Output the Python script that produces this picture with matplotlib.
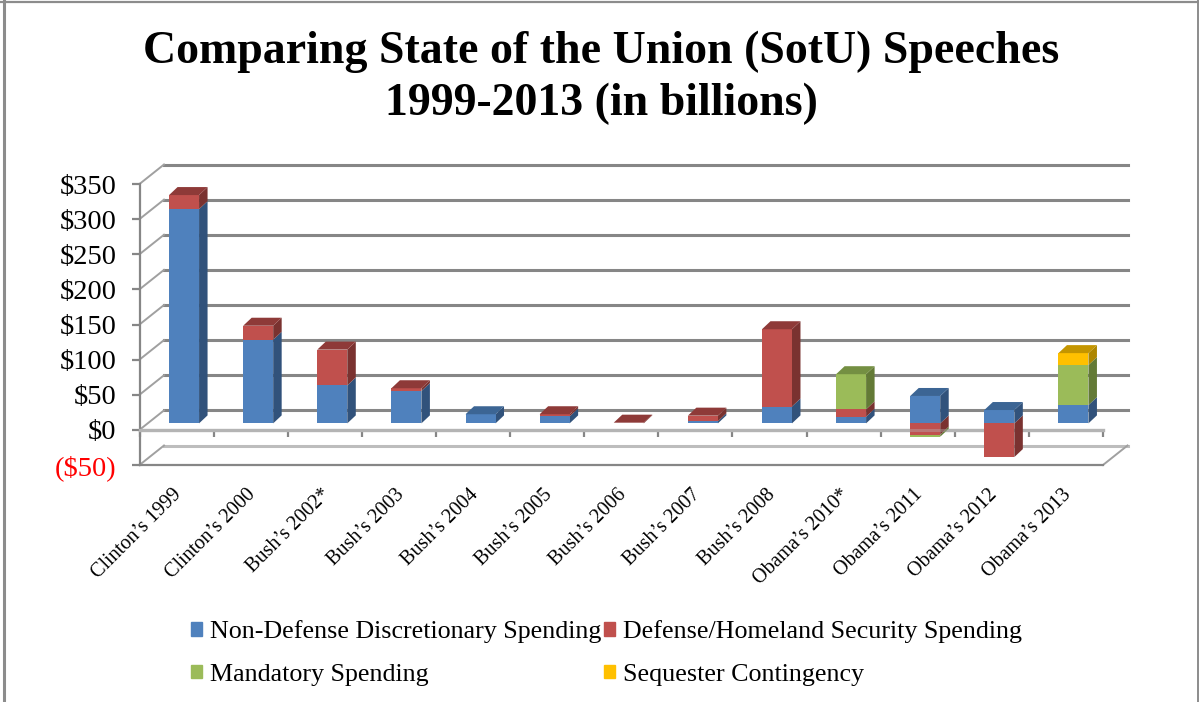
import numpy as np
import matplotlib
matplotlib.use("Agg")
import matplotlib.pyplot as plt
from matplotlib.lines import Line2D
from matplotlib.patches import Patch
from matplotlib.transforms import ScaledTranslation

categories = ["Clinton’s 1999", "Clinton’s 2000", "Bush’s 2002*", "Bush’s 2003", "Bush’s 2004",
              "Bush’s 2005", "Bush’s 2006", "Bush’s 2007", "Bush’s 2008", "Obama’s 2010*",
              "Obama’s 2011", "Obama’s 2012", "Obama’s 2013"]
non_defense = [305, 119, 54, 46, 13, 10, 0, 3, 24, 9.5, 39, 19, 26]
defense = [20, 20, 51, 4, 0, 3, 1, 8, 110, 10.5, -16, -48, 0]
mandatory = [0, 0, 0, 0, 0, 0, 0, 0, 0, 50, -3, 0, 57]
sequester = [0, 0, 0, 0, 0, 0, 0, 0, 0, 0, 0, 0, 17]
y_ticks = [-50, 0, 50, 100, 150, 200, 250, 300, 350]
y_labels = ["($50)", "$0", "$50", "$100", "$150", "$200", "$250", "$300", "$350"]

series = [non_defense, defense, mandatory, sequester]
names = ["Non-Defense Discretionary Spending", "Defense/Homeland Security Spending",
         "Mandatory Spending", "Sequester Contingency"]
front = ["#4f81bd", "#c0504d", "#9bbb59", "#ffc000"]
side = ["#31527b", "#7a3230", "#637a36", "#ad8600"]
top = ["#3c6594", "#8e3a38", "#748f42", "#c49500"]

W, H = 1199, 702
plt.rcParams["font.family"] = ["Liberation Serif", "DejaVu Serif"]
fig = plt.figure(figsize=(W / 100, H / 100), dpi=100)

# picture frame: left, top and right only
frame = dict(color="#8c8c8c", transform=fig.transFigure)
fig.add_artist(Line2D([3.5 / W, 3.5 / W], [0, 1], lw=2.2, **frame))
fig.add_artist(Line2D([0, 1], [1 - 2 / H, 1 - 2 / H], lw=1.6, **frame))
fig.add_artist(Line2D([1198 / W, 1198 / W], [0, 1], lw=1.4, **frame))

# front plane of the chart box, in pixels
left, right, y_top, y_bot = 139.5, 1103, 184, 465
ax = fig.add_axes([left / W, 1 - y_bot / H, (right - left) / W, (y_bot - y_top) / H])
ax.set_xlim(-0.5, 12.5)
ax.set_ylim(-50, 350)
ax.patch.set_alpha(0)

px_x = 13 / (right - left)
px_y = 400 / (y_bot - y_top)

# back wall and side wall
wall_x, wall_y = 24.5 * px_x, 19.5 * px_y
for t in y_ticks:
    c = "#bdbdbd" if t == -50 else "#868686"
    ax.plot([-0.5 + wall_x, 12.5 + wall_x], [t + wall_y, t + wall_y], color=c, lw=2.2, clip_on=False, zorder=1)
    ax.plot([-0.5, -0.5 + wall_x], [t, t + wall_y], color="#a0a0a0", lw=1.4, clip_on=False, zorder=1)
ax.plot([12.5, 12.5 + wall_x], [-50, -50 + wall_y], color="#a0a0a0", lw=1.4, clip_on=False, zorder=1)
ax.plot([-0.5, 12.5], [-50, -50], color="#868686", lw=1.6, clip_on=False, zorder=2)

# bars sit halfway into the depth of the box
off_x, off_y = 7.5 * px_x, 6.5 * px_y
bar_w = 30 * px_x
dep_x, dep_y = 8.5 * px_x, 8 * px_y


def draw_segment(i, b, h, s, z):
    x0 = i + off_x - bar_w / 2
    x1 = x0 + bar_w
    y0, y1 = b + off_y, b + h + off_y
    ax.fill([x1, x1 + dep_x, x1 + dep_x, x1], [y0, y0 + dep_y, y1 + dep_y, y1], color=side[s], lw=0, zorder=z, clip_on=False)
    ax.bar(i + off_x, h, bar_w, bottom=y0, color=front[s], lw=0, zorder=z, clip_on=False)


for i in range(len(categories)):
    z = 3 + i * 0.01
    vals = [s[i] for s in series]
    # below zero first, lowest segment first
    neg = [(k, v) for k, v in enumerate(vals) if v < 0]
    run = sum(v for k, v in neg)
    for k, v in reversed(neg):
        draw_segment(i, run, -v, k, z)
        run -= v
    run = 0
    last = None
    for k, v in enumerate(vals):
        if v > 0:
            draw_segment(i, run, v, k, z)
            run += v
            last = k
    if last is not None:
        x0 = i + off_x - bar_w / 2
        yt = run + off_y
        ax.fill([x0, x0 + bar_w, x0 + bar_w + dep_x, x0 + dep_x], [yt, yt, yt + dep_y, yt + dep_y],
                color=top[last], lw=0, zorder=z, clip_on=False)

# the axis line shows faintly through the 2011 bar, 2012 covers it
ax.plot([-0.5, 12.5], [0, 0], color="#b4b4b4", lw=2.2, alpha=0.4, zorder=3.105, clip_on=False)

for name in ["top", "right"]:
    ax.spines[name].set_visible(False)
ax.spines["left"].set_color("#868686")
ax.spines["left"].set_linewidth(1.6)
ax.spines["bottom"].set_position(("data", 0))
ax.spines["bottom"].set_color("#b4b4b4")
ax.spines["bottom"].set_linewidth(2.4)
ax.spines["bottom"].set_zorder(2.5)

ax.set_yticks(y_ticks)
ax.set_yticklabels(y_labels, fontsize=20.5)
ax.tick_params(axis="y", length=6, width=1.6, color="#868686", pad=10.5)
ax.get_yticklabels()[0].set_color("#ff0000")

ax.set_xticks(np.arange(len(categories)))
ax.set_xticklabels(categories, rotation=45, ha="right", rotation_mode="anchor", fontsize=14.5)
ax.set_xticks(np.arange(-0.5, 13), minor=True)
ax.tick_params(axis="x", which="major", length=0, pad=40)
ax.tick_params(axis="x", which="minor", length=5, width=1.6, color="#868686")
shift = ScaledTranslation(-3 / 72, 0, fig.dpi_scale_trans)
for label in ax.get_xticklabels():
    label.set_transform(label.get_transform() + shift)

fig.text(601 / W, 1 - 52 / H, "Comparing State of the Union (SotU) Speeches", ha="center", va="center",
         fontsize=33, fontweight="bold")
fig.text(601 / W, 1 - 104 / H, "1999-2013 (in billions)", ha="center", va="center", fontsize=33, fontweight="bold")

handles = [Patch(color=front[k]) for k in [0, 2, 1, 3]]
labels = [names[k] for k in [0, 2, 1, 3]]
fig.legend(handles, labels, ncols=2, loc="center left", bbox_to_anchor=(191 / W, 1 - 653 / H), frameon=False,
           fontsize=18.7, handlelength=0.43, handleheight=0.43, handletextpad=0.3, columnspacing=0.1,
           labelspacing=0.8, borderpad=0, borderaxespad=0)

fig.savefig("out.png", dpi=100)
